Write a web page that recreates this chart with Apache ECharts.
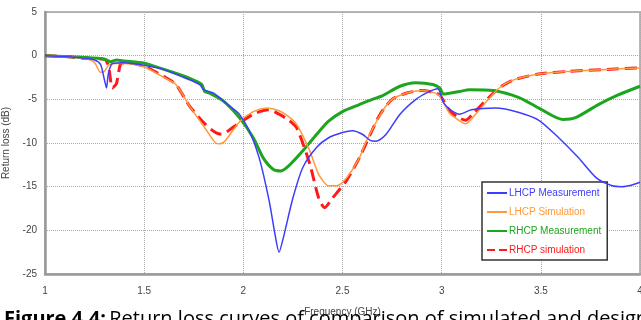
<!DOCTYPE html>
<html>
<head>
<meta charset="utf-8">
<script src="https://cdn.jsdelivr.net/npm/echarts@6/dist/echarts.min.js"></script>
<style>
  html, body { margin: 0; padding: 0; background: #fff; }
  #chart { width: 641px; height: 320px; }
</style>
</head>
<body>
<div id="chart"></div>
<script>
// return loss curves, [frequency GHz, dB]
var lhcpMeasurement = [
  [1.0, 0], [1.1, -0.1], [1.2, -0.3], [1.25, -0.5], [1.28, -1.0], [1.3, -2.8], [1.31, -3.7],
  [1.32, -2.0], [1.34, -0.9], [1.4, -0.8], [1.5, -1.1], [1.6, -1.6], [1.7, -2.5], [1.78, -3.3],
  [1.8, -3.9], [1.85, -4.3], [1.9, -5.2], [1.95, -6.1], [1.98, -6.7], [2.03, -8.6], [2.08, -11.7],
  [2.13, -16.6], [2.16, -20.5], [2.18, -22.5], [2.2, -21], [2.25, -16.3], [2.3, -12.8],
  [2.37, -10.5], [2.43, -9.4], [2.5, -8.8], [2.55, -8.6], [2.6, -9.0], [2.64, -9.7], [2.67, -9.8],
  [2.72, -9.0], [2.79, -6.7], [2.87, -5.0], [2.93, -4.2], [2.98, -3.8], [3.01, -5.4], [3.05, -6.3],
  [3.09, -6.7], [3.15, -6.2], [3.27, -6.0], [3.39, -6.5], [3.49, -7.4], [3.59, -9.4], [3.69, -11.7],
  [3.78, -14.0], [3.86, -14.9], [3.91, -15.0], [3.96, -14.8], [4.0, -14.5]
];
var lhcpSimulation = [
  [1.0, 0], [1.1, -0.1], [1.2, -0.3], [1.25, -0.8], [1.28, -1.9], [1.3, -1.8], [1.32, -1.1],
  [1.35, -0.9], [1.4, -0.9], [1.5, -1.3], [1.6, -2.5], [1.66, -3.3], [1.73, -5.8], [1.81, -8.4],
  [1.86, -10.0], [1.88, -10.1], [1.91, -9.7], [1.98, -7.6], [2.05, -6.4], [2.12, -6.0],
  [2.18, -6.3], [2.23, -7.0], [2.27, -7.9], [2.335, -10.9], [2.38, -13.6], [2.43, -14.9],
  [2.47, -14.9], [2.52, -14.0], [2.585, -11.7], [2.62, -9.8], [2.7, -6.4], [2.75, -5.0],
  [2.82, -4.3], [2.9, -4.0], [2.955, -4.2], [2.99, -4.6], [3.04, -6.6], [3.1, -7.6], [3.12, -7.8],
  [3.16, -7.0], [3.22, -5.4], [3.29, -3.7], [3.36, -2.8], [3.49, -2.1], [3.64, -1.8], [3.81, -1.6],
  [4.0, -1.4]
];
var rhcpMeasurement = [
  [1.0, 0], [1.1, -0.1], [1.2, -0.2], [1.3, -0.4], [1.33, -0.7], [1.36, -0.5], [1.4, -0.6],
  [1.5, -0.85], [1.63, -1.8], [1.73, -2.6], [1.79, -3.3], [1.805, -4.1], [1.83, -4.3], [1.9, -5.2],
  [1.98, -7.1], [2.05, -9.4], [2.1, -11.7], [2.15, -13.0], [2.19, -13.2], [2.23, -12.6],
  [2.3, -10.9], [2.37, -9.0], [2.43, -7.5], [2.5, -6.4], [2.585, -5.6], [2.65, -5.0], [2.7, -4.6],
  [2.79, -3.5], [2.87, -3.1], [2.955, -3.3], [2.99, -3.7], [3.01, -4.4], [3.09, -4.1], [3.14, -3.9],
  [3.26, -4.0], [3.39, -4.8], [3.49, -6.0], [3.61, -7.3], [3.675, -7.1], [3.79, -5.6], [3.89, -4.5],
  [4.0, -3.5]
];
var rhcpSimulation = [
  [1.0, 0], [1.1, -0.1], [1.2, -0.3], [1.3, -0.4], [1.32, -1.2], [1.34, -3.7], [1.36, -3.2],
  [1.38, -1.0], [1.4, -0.8], [1.5, -1.2], [1.6, -2.4], [1.66, -3.3], [1.73, -5.8], [1.81, -7.9],
  [1.86, -8.8], [1.89, -9.0], [1.93, -8.5], [1.98, -7.7], [2.06, -6.6], [2.13, -6.2], [2.18, -6.7],
  [2.23, -7.4], [2.27, -8.3], [2.335, -12.4], [2.38, -16.3], [2.41, -17.4], [2.45, -16.3],
  [2.52, -14.3], [2.585, -11.7], [2.64, -9.0], [2.69, -6.7], [2.75, -5.0], [2.82, -4.3], [2.9, -4.0],
  [2.955, -4.2], [2.99, -4.5], [3.04, -6.3], [3.08, -7.0], [3.12, -7.4], [3.16, -6.6], [3.22, -5.2],
  [3.29, -3.7], [3.36, -2.8], [3.49, -2.1], [3.64, -1.8], [3.81, -1.6], [4.0, -1.4]
];

var seriesNames = ["LHCP Measurement", "LHCP Simulation", "RHCP Measurement", "RHCP simulation"];
var seriesColors = ["#3d3dff", "#ff9a3c", "#1ea51e", "#ff1a1a"];
var seriesData = [lhcpMeasurement, lhcpSimulation, rhcpMeasurement, rhcpSimulation];
var seriesWidths = [1.5, 1.5, 3, 3];
var seriesTypes = ["solid", "solid", "solid", "dashed"];

var font = "'Liberation Sans Narrow', 'Liberation Sans', sans-serif";

var chart = echarts.init(document.getElementById("chart"));

var series = seriesNames.map(function (name, i) {
  return {
    name: name,
    type: "line",
    data: seriesData[i],
    symbol: "none",
    smooth: 0.25,
    z: 10 - i,
    lineStyle: {
      color: seriesColors[i],
      width: seriesWidths[i],
      type: seriesTypes[i]
    },
    itemStyle: { color: seriesColors[i] }
  };
});

chart.setOption({
  animation: false,
  backgroundColor: "#fff",
  grid: {
    left: 45, right: 1, top: 12, bottom: 46,
    outerBoundsMode: "none",
    containLabel: false,
    show: true, borderColor: "#b8b8b8", borderWidth: 2
  },
  legend: {
    orient: "vertical",
    left: 482, top: 182,
    itemWidth: 20, itemHeight: 8, itemGap: 9,
    padding: [6, 6, 5, 4],
    backgroundColor: "#fff",
    borderColor: "#333", borderWidth: 1.5,
    itemStyle: { opacity: 0 },
    data: seriesNames.map(function (n, i) {
      return { name: n, textStyle: { color: seriesColors[i] } };
    }),
    textStyle: { fontFamily: font, fontSize: 10, padding: [0, 0, 0, -3] }
  },
  xAxis: {
    type: "value",
    min: 1, max: 4, interval: 0.5,
    name: "Frequency (GHz)",
    nameLocation: "middle",
    nameGap: 33,
    nameTextStyle: { fontFamily: font, fontSize: 10, color: "#444" },
    axisLine: { show: true, onZero: false, lineStyle: { color: "#999", width: 2.5 } },
    axisTick: { show: false },
    axisLabel: { fontFamily: font, fontSize: 10, color: "#444", margin: 12 },
    splitLine: { show: true, lineStyle: { color: "#aaa", type: "dotted", width: 1 } }
  },
  yAxis: {
    type: "value",
    min: -25, max: 5, interval: 5,
    name: "Return loss (dB)",
    nameLocation: "middle",
    nameGap: 28,
    nameTextStyle: { fontFamily: font, fontSize: 10, color: "#444" },
    axisLine: { show: true, onZero: false, lineStyle: { color: "#999", width: 2.5 } },
    axisTick: { show: false },
    axisLabel: { fontFamily: font, fontSize: 10, color: "#444", margin: 8 },
    splitLine: { show: true, lineStyle: { color: "#aaa", type: "dotted", width: 1 } }
  },
  graphic: [{
    type: "text",
    left: 4, top: 309,
    z: 100,
    style: {
      rich: {
        b: { fontFamily: "'Open Sans', sans-serif", fontSize: 20, fontWeight: "bold", fill: "#000" },
        n: { fontFamily: "'Open Sans', sans-serif", fontSize: 20, fill: "#000" }
      },
      text: "{b|Figure 4.4:} {n|Return loss curves of comparison of simulated and design}"
    }
  }],
  series: series
});
</script>
</body>
</html>
